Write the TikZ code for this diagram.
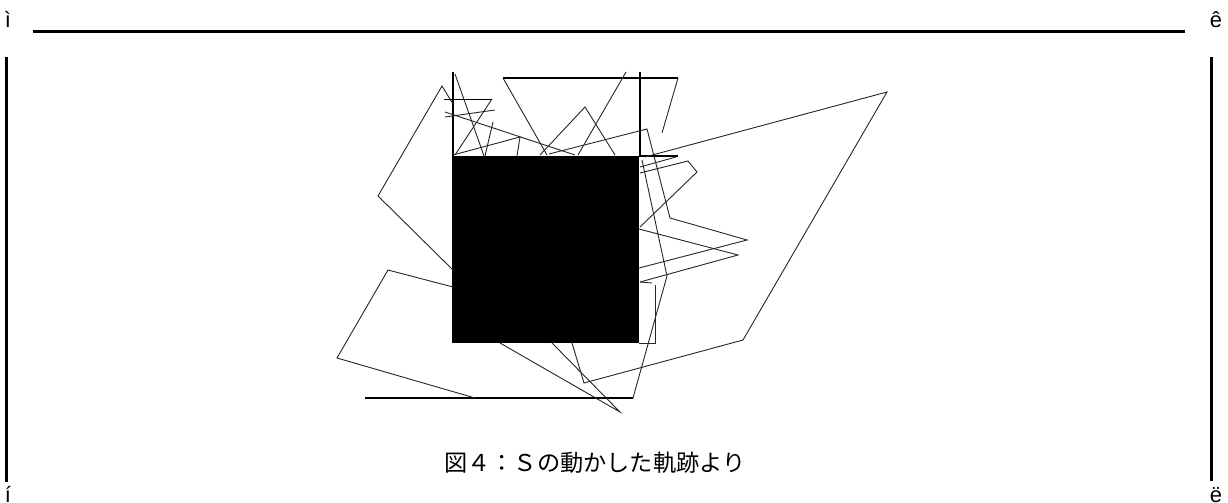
\documentclass[tikz,border=0pt]{standalone}
\usepackage{fontspec}
\setmainfont{Liberation Sans}
\newfontfamily\jpfont{Noto Sans CJK JP}
\begin{document}
\begin{tikzpicture}[x=1bp,y=-1bp,
  frameline/.style={line width=3bp},
  trace/.style={line width=0.9bp, black!85, line join=miter},
  heavytrace/.style={line width=1.5bp, black},
  corner/.style={font=\fontsize{22}{22}\selectfont, anchor=base, inner sep=0pt},
  captionstyle/.style={font=\jpfont\fontsize{23.3}{24}\selectfont, anchor=base west, inner sep=0pt}]
\useasboundingbox (0,0) rectangle (1228,503);
% frame
\draw[frameline] (33,31.5) -- (1185,31.5);
\draw[frameline] (6.5,57) -- (6.5,482);
\draw[frameline] (1211.5,57) -- (1211.5,481);
\node[corner] (tl) at (8,28) {ì};
\node[corner] (tr) at (1216,28) {ê};
\node[corner] (bl) at (8,502) {í};
\node[corner] (br) at (1216,502) {ë};
% filled square
\fill[black] (452,156.5) rectangle (639,343);
% heavy strokes
\draw[heavytrace] (453,72) -- (453,157);
\draw[heavytrace] (640,72) -- (640,157);
\draw[heavytrace] (503,78) -- (678,78);
\draw[heavytrace] (444,99.5) -- (492,99.5);
\draw[heavytrace] (640,156) -- (678,156);
\draw[heavytrace] (365,398) -- (633,398);
% thin trace
\draw[trace] (453,104) -- (442,86) -- (378,196) -- (453,270);
\draw[trace] (453,287) -- (388,270) -- (337,358) -- (475,398);
\draw[trace] (633,398) -- (667,276) -- (642,160);
\draw[trace] (500,343) -- (620,412) -- (552,343);
\draw[trace] (572,343) -- (584,383) -- (743,340) -- (887,92) -- (645,157);
\draw[trace] (549,154) -- (647,129) -- (670,218) -- (747,240) -- (639,268);
\draw[trace] (639,229) -- (738,255) -- (640,282);
\draw[trace] (640,173) -- (688,161) -- (697,172) -- (640,227);
\draw[trace] (640,167) -- (676,157);
\draw[trace] (678,78) -- (662,133);
\draw[trace] (503,78) -- (547,155);
\draw[trace] (626,72) -- (578,155);
\draw[trace] (540,155) -- (585,107) -- (615,155);
\draw[trace] (455,74) -- (484,156);
\draw[trace] (492,99) -- (455,155);
\draw[trace] (445,112) -- (575,155);
\draw[trace] (445,117) -- (495,110);
\draw[trace] (453,155) -- (520,137) -- (517,156);
\draw[trace] (493,122) -- (485,156);
\draw[trace] (640,282) -- (652,283);
\draw[trace] (639,343) -- (655,343) -- (655,285);
% caption
\node[captionstyle] (cap) at (444,471) {図４：Ｓの動かした軌跡より};
\end{tikzpicture}
\end{document}
